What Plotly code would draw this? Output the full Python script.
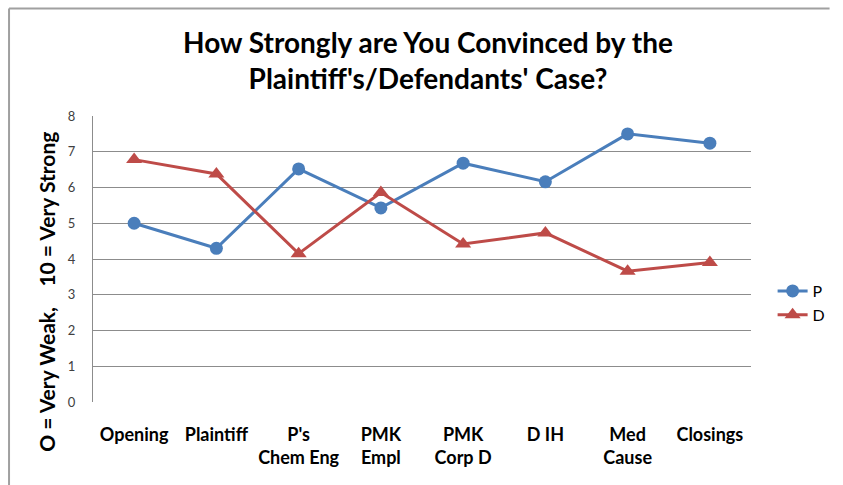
import plotly.graph_objects as go

categories = ["Opening", "Plaintiff", "P's<br>Chem Eng", "PMK<br>Empl", "PMK<br>Corp D", "D IH", "Med<br>Cause", "Closings"]
p_values = [5.0, 4.3, 6.52, 5.43, 6.68, 6.16, 7.5, 7.24]
d_values = [6.78, 6.38, 4.15, 5.86, 4.42, 4.73, 3.66, 3.9]
y_ticks = [0, 1, 2, 3, 4, 5, 6, 7, 8]

L, R, T, B = 93, 80, 116, 83
W, H = 843, 485
pw, ph = W - L - R, H - T - B

def px_x(x):
    return (x - L) / pw

def px_y(y):
    return (H - B - y) / ph

fig = go.Figure()
fig.add_trace(go.Scatter(
    x=list(range(len(categories))), y=p_values, name="P", mode="lines+markers",
    line=dict(color="#4A7EBB", width=3),
    marker=dict(symbol="circle", size=13, color="#4A7EBB"),
))
fig.add_trace(go.Scatter(
    x=list(range(len(categories))), y=d_values, name="D", mode="lines+markers",
    line=dict(color="#BE4B48", width=3),
    marker=dict(symbol="triangle-up", size=14, color="#BE4B48"),
))

fig.update_layout(
    width=W, height=H,
    margin=dict(l=L, r=R, t=T, b=B),
    paper_bgcolor="white", plot_bgcolor="white",
    font=dict(family="Lato, Carlito, sans-serif", color="black"),
    title=dict(
        text="<b>How Strongly are You Convinced by the<br>Plaintiff's/Defendants' Case?</b>",
        x=428 / W, xanchor="center", y=1 - 53 / H, yanchor="middle",
        font=dict(size=28, family="Lato, sans-serif", color="black"),
    ),
    xaxis=dict(
        range=[-0.5, len(categories) - 0.5],
        tickmode="array", tickvals=list(range(len(categories))), ticktext=["<b>%s</b>" % c for c in categories],
        tickfont=dict(size=18, family="Lato, sans-serif", color="black"),
        showgrid=False, zeroline=False, showline=False, ticks="", ticklabelstandoff=20,
    ),
    yaxis=dict(
        range=[0, 8], tickmode="array", tickvals=y_ticks,
        tickfont=dict(size=13, family="Lato, sans-serif", color="#404040"),
        showgrid=True, gridcolor="#8C8C8C", gridwidth=1,
        zeroline=False, showline=True, linecolor="#8C8C8C", linewidth=1,
        ticks="", ticklabelstandoff=14,
    ),
    legend=dict(
        x=px_x(785), y=px_y(303), xanchor="left", yanchor="middle",
        font=dict(size=16, family="Lato, sans-serif", color="black"),
        bgcolor="rgba(0,0,0,0)", tracegroupgap=0, itemwidth=30,
    ),
    showlegend=True,
)

fig.add_annotation(
    text="<b>O = Very Weak,    10 = Very Strong</b>",
    xref="paper", yref="paper", x=px_x(45), y=px_y(292),
    textangle=-90, showarrow=False, xanchor="center", yanchor="middle",
    font=dict(size=21, family="Lato, sans-serif", color="black"),
)

# chart-area border (top and left edges)
fig.add_shape(type="line", xref="paper", yref="paper",
              x0=px_x(7.5), x1=px_x(W), y0=px_y(8.5), y1=px_y(8.5),
              line=dict(color="#A0A0A0", width=2))
fig.add_shape(type="line", xref="paper", yref="paper",
              x0=px_x(7.5), x1=px_x(7.5), y0=px_y(8.5), y1=px_y(H),
              line=dict(color="#A0A0A0", width=2))

fig.write_html("out.html")
